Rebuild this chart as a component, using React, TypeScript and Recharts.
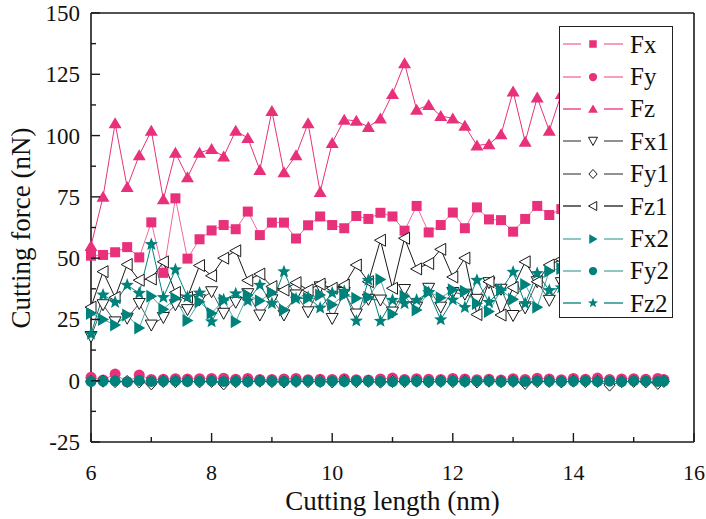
import React from "react"
import { LineChart, Line, XAxis, YAxis, Legend, ReferenceLine } from "recharts"

// cutting length positions (nm)
const xs = [
  6, 6.2, 6.4, 6.6, 6.8, 7, 7.2, 7.4, 7.6, 7.8, 8, 8.2, 8.4, 8.6, 8.8, 9, 9.2, 9.4, 9.6, 9.8,
  10, 10.2, 10.4, 10.6, 10.8, 11, 11.2, 11.4, 11.6, 11.8, 12, 12.2, 12.4, 12.6, 12.8, 13, 13.2, 13.4, 13.6, 13.8,
  14, 14.2, 14.4, 14.6, 14.8, 15, 15.2, 15.4, 15.5,
]

// forces (nN)
const fx = [
  51, 51.3, 52.4, 54.5, 50.3, 64.6, 44, 74.4, 49.8, 57.7,
  61.3, 63.5, 61.8, 69, 59.4, 64.5, 64.5, 58, 63.4, 67,
  63.5, 62.2, 67.2, 66, 68.5, 67, 61.2, 71.3, 60.5, 63.5,
  68.6, 62.2, 70.7, 65.8, 65.5, 60.8, 66, 71.3, 67.6, 70,
  66, 72, 68, 70, 65, 71, 69, 73, 70,
]
const fy = [
  1.4, 0.3, 2.7, -0.5, 2.3, 0.5, 0.6, 0.8, 0.7, 0.8,
  0.9, 1.0, 0.6, 0.9, 0.5, 0.5, 0.7, 0.9, 0.4, 0.6,
  0.5, 0.8, 0.4, 0.3, 0.7, 1.1, 0.5, 0.8, 0.6, 0.5,
  0.9, 0.7, 0.4, 0.6, 0.3, 0.8, 0.5, 1.0, 0.7, 0.4,
  0.9, 0.6, 1.1, 0.5, 0.7, 0.8, 0.6, 0.9, 0.5,
]
const fz = [
  55, 75, 105, 79, 92, 102, 74, 93, 83, 93,
  94.5, 91.5, 102, 99, 86, 110, 85, 92, 105, 77,
  97, 106.5, 106, 103.5, 107, 117, 129.5, 110.5, 112.5, 108,
  107, 104, 96, 96.5, 100.5, 118, 97.5, 115.5, 102, 117,
  108, 120, 104, 112, 118, 106, 115, 121, 118,
]
const fx1 = [
  18, 31, 24, 25.5, 31.5, 22.7, 25.8, 31, 29, 33,
  36.3, 27.5, 32, 35.5, 26.8, 33, 26.8, 35, 28.1, 38.3,
  25.4, 36, 27.2, 33.2, 32.9, 28, 37.2, 30, 37.7, 30,
  36, 35.3, 33.2, 40, 37.3, 26.6, 29.7, 40.4, 32.8, 40,
  37, 42, 36, 41, 38, 43, 39, 44, 41,
]
const fy1 = [
  -0.3, -0.2, -0.4, -0.3, -0.5, -1.3, -0.3, -0.4, -0.2, -0.5,
  -0.3, -1.3, -0.4, -0.3, -0.2, -0.4, -0.5, -0.3, -0.4, -0.3,
  -0.5, -0.2, -0.4, -0.3, -0.6, -0.3, -0.4, -0.2, -0.5, -0.3,
  -0.4, -0.3, -0.5, -0.2, -0.4, -0.3, -1.1, -0.4, -0.3, -0.5,
  -0.2, -0.4, -0.3, -1.8, -0.4, -0.3, -0.5, -1.1, -0.3,
]
const fz1 = [
  30, 44.5, 34, 47.4, 41, 41.5, 48.5, 36, 34, 47,
  42.8, 50, 53, 40.9, 43.5, 38.4, 37, 40, 37, 39.4,
  37.7, 39, 47.2, 40.4, 57.3, 37.7, 58.1, 45.6, 47.8, 53.6,
  42.3, 50, 27, 40.4, 26.8, 38, 48.5, 40.4, 47.2, 49.5,
  44, 51, 46, 49, 43, 50, 47, 52, 48,
]
const fx2 = [
  27.4, 25, 22.7, 26.8, 21.5, 34.5, 29.2, 33.6, 24.6, 32.2,
  27.5, 32.9, 24.1, 35, 32.6, 35.9, 28.8, 33.6, 33.6, 35,
  31, 35, 33.6, 34, 41.3, 27.2, 34.5, 28.8, 36.5, 33.8,
  37.1, 36.5, 31.5, 28.2, 37, 33.2, 39.2, 30, 44.7, 45.8,
  40, 46, 42, 47, 43, 48, 44, 49, 46,
]
const fy2 = [
  -0.3, -0.2, -0.1, -0.4, 0.1, -0.3, -0.2, -0.1, -0.3, -0.2,
  -0.1, -0.3, -0.2, -0.4, -0.1, -0.2, -0.3, -0.2, -0.1, -0.4,
  -0.2, -0.3, -0.1, -0.2, -0.3, -0.4, -0.1, -0.2, -0.3, -0.2,
  -0.1, -0.3, -0.2, -0.1, -0.4, -0.2, -0.3, -0.1, -0.2, -0.3,
  -0.2, -0.1, -0.3, -0.2, -0.4, -0.1, -0.2, -0.3, -0.2,
]
const fz2 = [
  19, 35, 32, 39, 35.7, 55.6, 34, 45.3, 34.2, 35.8,
  24.1, 33, 35.5, 32.6, 39, 31.5, 44.5, 33.4, 34, 29.7,
  35.8, 36.5, 24.4, 41, 24.3, 32.9, 31.5, 32.9, 36, 24.9,
  33, 29.9, 41, 32, 37, 44.3, 31.5, 43.8, 36.8, 38,
  45, 39, 47, 40, 46, 42, 48, 43, 46,
]

const xTicks = [6, 7, 8, 9, 10, 11, 12, 13, 14, 15, 16]
const yTicks = [-25, -12.5, 0, 12.5, 25, 37.5, 50, 62.5, 75, 87.5, 100, 112.5, 125, 137.5, 150]

const PINK = "#e8317a"
const TEAL = "#00827c"
const BLACK = "#1a1a1a"
const FONT = '"Liberation Serif", "Times New Roman", serif'

type Kind = "square" | "circle" | "up" | "down" | "diamond" | "left" | "right" | "star"

interface Series {
  key: string
  values: number[]
  kind: Kind
  color: string
  line: string
}

const series: Series[] = [
  { key: "Fx", values: fx, kind: "square", color: PINK, line: "#f06a9d" },
  { key: "Fy", values: fy, kind: "circle", color: PINK, line: "#f06a9d" },
  { key: "Fz", values: fz, kind: "up", color: PINK, line: PINK },
  { key: "Fx1", values: fx1, kind: "down", color: BLACK, line: "#555" },
  { key: "Fy1", values: fy1, kind: "diamond", color: BLACK, line: "#555" },
  { key: "Fz1", values: fz1, kind: "left", color: BLACK, line: BLACK },
  { key: "Fx2", values: fx2, kind: "right", color: TEAL, line: "#4fa8a3" },
  { key: "Fy2", values: fy2, kind: "circle", color: TEAL, line: "#4fa8a3" },
  { key: "Fz2", values: fz2, kind: "star", color: TEAL, line: TEAL },
]

const rows = xs.map((x, i) => {
  const row: Record<string, number> = { x }
  series.forEach((s) => (row[s.key] = s.values[i]))
  return row
})

function Mark({ cx, cy, kind, color, k = 1 }: { cx: number; cy: number; kind: Kind; color: string; k?: number }) {
  if (cx == null || cy == null) return null
  const open = { fill: "#fff", stroke: color, strokeWidth: 1 }
  const solid = { fill: color }
  switch (kind) {
    case "square":
      return <rect x={cx - 5 * k} y={cy - 5 * k} width={10 * k} height={10 * k} {...solid} />
    case "circle":
      return <circle cx={cx} cy={cy} r={5.5 * k} {...solid} />
    case "up":
      return <polygon points={`${cx},${cy - 6 * k} ${cx + 6.5 * k},${cy + 5 * k} ${cx - 6.5 * k},${cy + 5 * k}`} {...solid} />
    case "down":
      return <polygon points={`${cx - 6 * k},${cy - 5 * k} ${cx + 6 * k},${cy - 5 * k} ${cx},${cy + 6 * k}`} {...open} />
    case "left":
      return <polygon points={`${cx - 6 * k},${cy} ${cx + 5 * k},${cy - 6 * k} ${cx + 5 * k},${cy + 6 * k}`} {...open} />
    case "right":
      return <polygon points={`${cx + 6 * k},${cy} ${cx - 5 * k},${cy - 6.5 * k} ${cx - 5 * k},${cy + 6.5 * k}`} {...solid} />
    case "diamond":
      return <polygon points={`${cx},${cy - 6 * k} ${cx + 5.5 * k},${cy} ${cx},${cy + 6 * k} ${cx - 5.5 * k},${cy}`} {...open} />
    case "star": {
      const pts: string[] = []
      for (let i = 0; i < 10; i++) {
        const r = (i % 2 === 0 ? 7 : 3) * k
        const a = -Math.PI / 2 + (i * Math.PI) / 5
        pts.push(`${cx + r * Math.cos(a)},${cy + r * Math.sin(a)}`)
      }
      return <polygon points={pts.join(" ")} {...solid} />
    }
  }
  return null
}

// ticks point inward, labels only on the major ones
const XTick = ({ x, y, payload }: any) => {
  const major = payload.value % 2 === 0
  return (
    <g>
      <line x1={x} x2={x} y1={y} y2={y - (major ? 9 : 5)} stroke={BLACK} strokeWidth={1.4} />
      {major && (
        <text x={x} y={y + 38} textAnchor="middle" fontSize={22} fontFamily={FONT} fill="#111">
          {payload.value}
        </text>
      )}
    </g>
  )
}

const YTick = ({ x, y, payload }: any) => {
  const major = payload.value % 25 === 0
  return (
    <g>
      <line x1={x} x2={x + (major ? 9 : 5)} y1={y} y2={y} stroke={BLACK} strokeWidth={1.4} />
      {major && (
        <text x={x - 11} y={y + 8} textAnchor="end" fontSize={23} fontFamily={FONT} fill="#111">
          {payload.value}
        </text>
      )}
    </g>
  )
}

const LegendBox = () => (
  <div
    style={{
      width: 114,
      height: 292,
      boxSizing: "border-box",
      border: "1.3px solid #222",
      background: "#fff",
      paddingTop: 1,
    }}
  >
    {series.map((s) => (
      <div key={s.key} style={{ display: "flex", alignItems: "center", height: 32.4 }}>
        <svg width={66} height={20}>
          <line x1={3} x2={21} y1={10} y2={10} stroke={s.line} strokeWidth={1.3} />
          <Mark cx={33} cy={10} kind={s.kind} color={s.color} k={0.75} />
          <line x1={44} x2={63} y1={10} y2={10} stroke={s.line} strokeWidth={1.3} />
        </svg>
        <span style={{ marginLeft: 4, fontSize: 25, fontFamily: FONT, color: "#111", lineHeight: 1 }}>{s.key}</span>
      </div>
    ))}
  </div>
)

export default function App() {
  return (
    <div style={{ position: "absolute", left: 0, top: 0, width: 706, height: 519, fontFamily: FONT }}>
      <LineChart width={706} height={519} data={rows} margin={{ top: 13, right: 12, bottom: 0, left: 0 }}>
        <XAxis
          dataKey="x"
          type="number"
          domain={[6, 16]}
          ticks={xTicks}
          interval={0}
          height={77}
          tickSize={0}
          tickMargin={0}
          tickLine={false}
          axisLine={{ stroke: BLACK, strokeWidth: 1.6 }}
          tick={<XTick />}
          label={() => (
            <text x={392.5} y={510} textAnchor="middle" fontSize={27} fontFamily={FONT} fill="#111">
              Cutting length (nm)
            </text>
          )}
        />
        <YAxis
          type="number"
          domain={[-25, 150]}
          ticks={yTicks}
          interval={0}
          width={91}
          tickSize={0}
          tickMargin={0}
          tickLine={false}
          axisLine={{ stroke: BLACK, strokeWidth: 1.6 }}
          tick={<YTick />}
          label={() => (
            <text
              x={30}
              y={228}
              transform="rotate(-90 30 228)"
              textAnchor="middle"
              fontSize={27}
              fontFamily={FONT}
              fill="#111"
            >
              Cutting force (nN)
            </text>
          )}
        />
        <ReferenceLine y={150} stroke={BLACK} strokeWidth={1.6} />
        <ReferenceLine x={16} stroke={BLACK} strokeWidth={1.6} />
        {series.map((s) => (
          <Line
            key={s.key}
            dataKey={s.key}
            stroke={s.line}
            strokeWidth={1}
            isAnimationActive={false}
            activeDot={false}
            dot={(p: any) => <Mark key={`${s.key}-${p.index}`} cx={p.cx} cy={p.cy} kind={s.kind} color={s.color} />}
          />
        ))}
        <Legend
          layout="vertical"
          align="center"
          verticalAlign="middle"
          content={<LegendBox />}
          wrapperStyle={{ left: 559, top: 26, width: 114, height: 292 }}
        />
      </LineChart>
    </div>
  )
}
